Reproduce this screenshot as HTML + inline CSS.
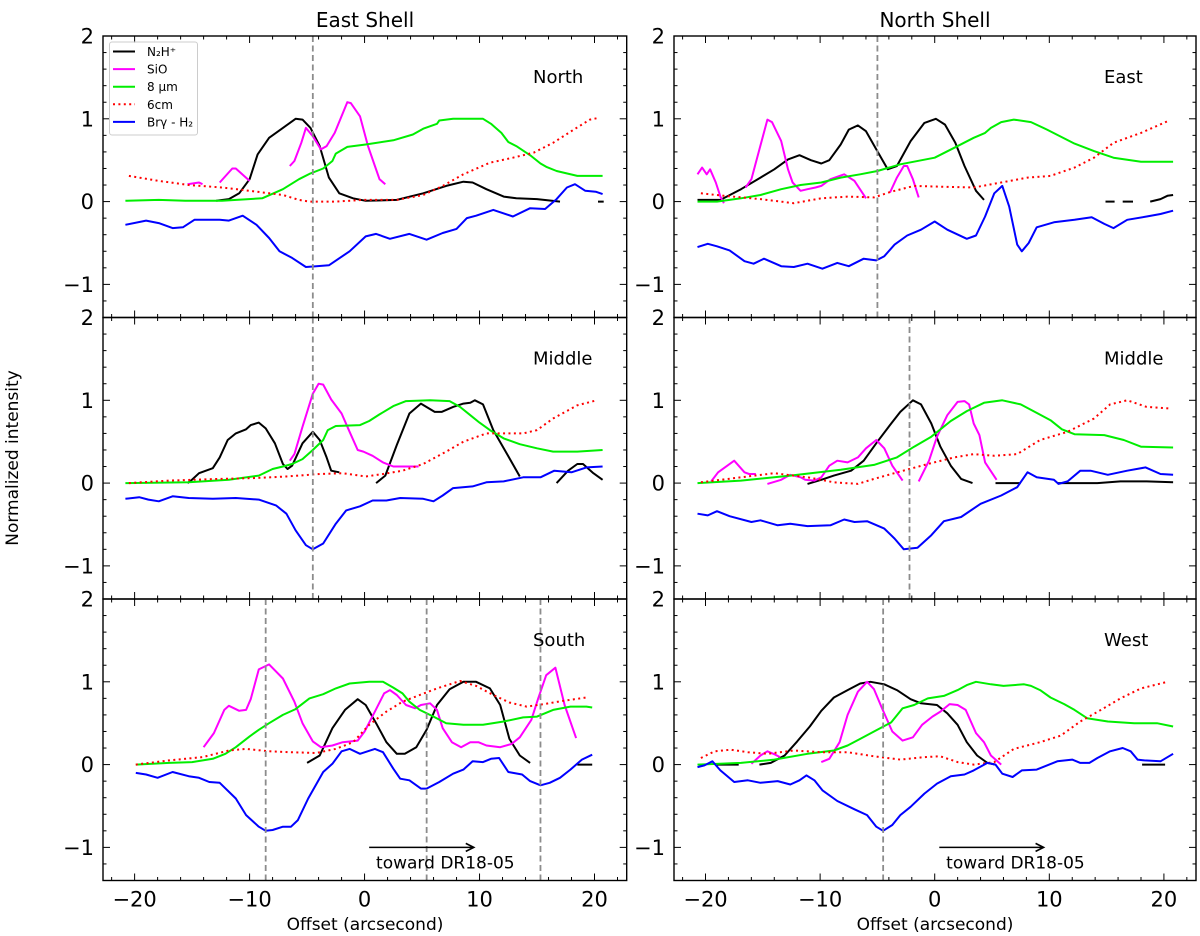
<!DOCTYPE html>
<html><head><meta charset="utf-8">
<style>
body{margin:0;background:#fff;}
svg{display:block;font-family:"DejaVu Sans","Liberation Sans",sans-serif;}
</style></head>
<body>
<svg id="fig" width="1200" height="936" viewBox="0 0 1200 936" xmlns="http://www.w3.org/2000/svg"></svg>
<script>
// ---------- data (offset arcsec, normalized intensity) ----------
const eastNorthN2H = [[[-12.9,0.01],[-11.8,0.03],[-10.9,0.1],[-10,0.27],[-9.3,0.57],[-8.3,0.77],[-7.1,0.89],[-6,1.0],[-5.4,0.99],[-4.7,0.89],[-3.9,0.67],[-3.1,0.29],[-2.2,0.1],[-1,0.04],[0.1,0.01],[2.8,0.02],[5.1,0.1],[7.1,0.19],[8.6,0.24],[9.4,0.23],[10.6,0.15],[12.1,0.06],[13.2,0.04],[15,0.03],[17,0]],[[20.3,0],[20.8,0]]];
const eastNorthSiO = [[[-15.4,0.21],[-14.4,0.23],[-14.1,0.21]],[[-12.6,0.23],[-11.5,0.4],[-11.2,0.4],[-10,0.25]],[[-6.5,0.43],[-6.1,0.49],[-5.5,0.71],[-5.1,0.89],[-4.5,0.79],[-3.8,0.63],[-3.3,0.67],[-2.6,0.83],[-1.5,1.2],[-1.2,1.19],[-0.4,1.03],[0.3,0.67],[0.9,0.43],[1.3,0.27],[1.8,0.21]]];
const eastNorth8um = [[[-20.8,0.01],[-17.9,0.02],[-15.6,0.01],[-12.4,0.01],[-8.9,0.04],[-7.1,0.15],[-5.7,0.27],[-4.7,0.34],[-3.6,0.4],[-2.8,0.49],[-2.5,0.58],[-1.5,0.66],[0.1,0.69],[2.5,0.74],[4.2,0.81],[5.1,0.88],[6.3,0.94],[6.5,0.98],[7.7,1.0],[10.3,1.0],[11,0.94],[11.9,0.83],[12.5,0.72],[13.2,0.67],[14.5,0.55],[15.3,0.46],[15.8,0.42],[16.7,0.37],[18.5,0.31],[20.7,0.31]]];
const eastNorth6cm = [[[-20.5,0.31],[-17.9,0.25],[-15.3,0.2],[-12.4,0.17],[-10,0.13],[-7.1,0.08],[-5.7,0.02],[-4.8,0],[-2.5,0],[-0.1,0.02],[2.8,0.02],[5.1,0.08],[6.8,0.19],[8.6,0.33],[10.9,0.47],[12.9,0.53],[14.7,0.59],[16.4,0.71],[18.2,0.87],[19.6,0.99],[20.3,1.01]]];
const eastNorthBrg = [[[-20.8,-0.28],[-19,-0.23],[-17.9,-0.26],[-16.7,-0.32],[-15.8,-0.31],[-14.8,-0.22],[-12.6,-0.22],[-11.8,-0.23],[-10.6,-0.17],[-9.4,-0.28],[-8.3,-0.44],[-7.4,-0.6],[-6.3,-0.68],[-5.1,-0.79],[-4.2,-0.78],[-3.1,-0.77],[-1.3,-0.6],[0.1,-0.42],[1,-0.39],[2.2,-0.45],[3.9,-0.39],[5.4,-0.46],[6.8,-0.38],[8,-0.33],[8.9,-0.2],[9.7,-0.17],[11.2,-0.1],[12.9,-0.18],[14.4,-0.08],[15.7,-0.09],[16.7,0.03],[17.6,0.17],[18.3,0.21],[19.2,0.13],[20.1,0.12],[20.7,0.09]]];

const eastMidN2H = [[[-15.4,0],[-15.1,0.03],[-14.4,0.12],[-13.2,0.18],[-12.6,0.31],[-11.9,0.52],[-11.2,0.6],[-10.3,0.65],[-9.9,0.7],[-9.2,0.73],[-8.6,0.66],[-7.8,0.48],[-7.1,0.23],[-6.7,0.17],[-6.3,0.21],[-5.4,0.48],[-4.5,0.62],[-3.9,0.52],[-3.3,0.31],[-2.9,0.15],[-2.2,0.13]],[[1,0],[1.8,0.09],[2.8,0.46],[3.9,0.84],[4.9,0.96],[6.1,0.86],[6.7,0.86],[7.7,0.92],[8.6,0.96],[9.2,0.97],[9.6,1.0],[10.3,0.95],[11.2,0.64],[12.4,0.35],[13.5,0.08]],[[16.7,0],[17.7,0.15],[18.5,0.23],[19,0.23],[19.9,0.12],[20.7,0.04]]];
const eastMidSiO = [[[-6.5,0.27],[-6.1,0.35],[-5.4,0.68],[-4.5,1.08],[-4,1.2],[-3.6,1.19],[-2.9,1.01],[-2,0.84],[-1.3,0.62],[-0.6,0.4],[-0.1,0.38],[0.7,0.33],[1.6,0.25],[2.5,0.2],[4.7,0.2]]];
const eastMid8um = [[[-20.8,0],[-15.3,0.01],[-11.8,0.04],[-9.2,0.09],[-8,0.17],[-7.1,0.2],[-6.3,0.23],[-5.4,0.29],[-4.5,0.4],[-3.6,0.52],[-3.2,0.64],[-2.5,0.69],[-0.4,0.7],[0.4,0.75],[1.3,0.83],[2.5,0.93],[3.6,0.99],[5.7,1.0],[7.4,0.99],[8.3,0.92],[9.2,0.82],[10,0.73],[10.9,0.64],[12.1,0.54],[13.5,0.47],[15,0.42],[16.4,0.38],[18.5,0.38],[20.7,0.4]]];
const eastMid6cm = [[[-20.5,0],[-17,0.03],[-12.6,0.05],[-9.7,0.06],[-6.8,0.08],[-3.9,0.11],[-1.9,0.12],[0.1,0.08],[1.6,0.11],[3.3,0.15],[5.1,0.23],[7.1,0.38],[8.6,0.5],[10.6,0.6],[12.1,0.6],[13.8,0.6],[15,0.64],[16.4,0.78],[18.5,0.94],[20.2,1.0]]];
const eastMidBrg = [[[-20.8,-0.19],[-19.6,-0.17],[-18.8,-0.2],[-17.9,-0.22],[-16.7,-0.16],[-15.3,-0.18],[-13.2,-0.19],[-11.2,-0.18],[-9.2,-0.2],[-7.7,-0.27],[-6.8,-0.37],[-6,-0.57],[-5.1,-0.75],[-4.5,-0.8],[-3.6,-0.73],[-2.5,-0.49],[-1.6,-0.33],[-0.4,-0.28],[0.7,-0.21],[1.9,-0.21],[3.1,-0.18],[5.1,-0.19],[6,-0.22],[6.8,-0.15],[7.7,-0.06],[9.4,-0.04],[10.6,0.01],[12.1,0.02],[13.8,0.07],[15.3,0.07],[16.5,0.15],[18,0.13],[19.3,0.19],[20.7,0.2]]];

const eastSouthN2H = [[[-5,0.02],[-3.9,0.11],[-2.8,0.44],[-1.7,0.66],[-0.6,0.79],[0.1,0.72],[1,0.5],[1.9,0.27],[2.8,0.13],[3.5,0.13],[4.5,0.21],[5.4,0.42],[6.3,0.72],[7.4,0.91],[8.6,1.0],[9.7,1.0],[10.9,0.92],[11.8,0.72],[12.6,0.31],[13.5,0.11],[14.4,0.02]],[[18.5,0],[19.8,0]]];
const eastSouthSiO = [[[-14,0.21],[-13.1,0.38],[-12.2,0.66],[-11.8,0.71],[-10.9,0.65],[-10.3,0.66],[-9.9,0.79],[-9.2,1.15],[-8.3,1.21],[-7.1,1.04],[-6.1,0.76],[-5.4,0.5],[-4.5,0.28],[-3.8,0.21],[-2.8,0.23],[-1.9,0.27],[-0.6,0.29],[0,0.4],[0.9,0.64],[1.7,0.86],[2.2,0.9],[2.8,0.84],[3.6,0.72],[4.4,0.68],[4.9,0.72],[5.7,0.74],[6.3,0.66],[6.8,0.44],[7.6,0.27],[8.4,0.21],[9.2,0.27],[9.9,0.27],[10.6,0.23],[11.8,0.21],[12.8,0.25],[13.5,0.33],[14.5,0.54],[15.1,0.8],[15.8,1.08],[16.6,1.17],[17.4,0.72],[18.4,0.32]]];
const eastSouth8um = [[[-19.9,0],[-17,0.02],[-15,0.03],[-13.2,0.07],[-12.1,0.13],[-11.2,0.21],[-10,0.34],[-9.2,0.42],[-8.3,0.5],[-7.1,0.6],[-6,0.67],[-4.8,0.8],[-3.6,0.85],[-2.5,0.92],[-1.3,0.98],[0.4,1.0],[1.6,1.0],[2.5,0.93],[3.3,0.86],[3.9,0.76],[4.8,0.66],[6,0.58],[7.1,0.5],[8.6,0.48],[10.3,0.48],[12.1,0.52],[13.8,0.57],[15,0.58],[16.4,0.66],[17.9,0.7],[19.3,0.7],[19.8,0.69]]];
const eastSouth6cm = [[[-19.9,0],[-17,0.05],[-14.1,0.09],[-11.8,0.17],[-10.3,0.19],[-8.3,0.16],[-6.5,0.15],[-4.2,0.14],[-2.5,0.19],[-1,0.27],[0.4,0.48],[1.9,0.64],[3.3,0.76],[4.8,0.84],[6.3,0.92],[8.3,1.01],[9.7,0.95],[11.2,0.84],[12.6,0.75],[14.1,0.7],[15.6,0.73],[17.3,0.77],[19.3,0.81]]];
const eastSouthBrg = [[[-19.9,-0.1],[-19,-0.12],[-18,-0.16],[-16.7,-0.09],[-15.3,-0.14],[-14.4,-0.16],[-13.5,-0.21],[-12.6,-0.22],[-11.2,-0.41],[-10.3,-0.61],[-9.2,-0.75],[-8.6,-0.8],[-8,-0.79],[-7.1,-0.75],[-6.4,-0.75],[-5.8,-0.67],[-4.9,-0.41],[-3.6,-0.09],[-2.8,0.01],[-2,0.16],[-1.3,0.19],[-0.4,0.13],[0.9,0.19],[1.6,0.15],[2.5,-0.05],[3.1,-0.17],[3.9,-0.19],[4.9,-0.29],[5.4,-0.29],[6.5,-0.21],[7.7,-0.11],[8.6,-0.06],[9.4,0.04],[10.3,0.03],[11,0.07],[11.7,0.08],[12.5,-0.09],[13.7,-0.12],[14.4,-0.2],[15.3,-0.25],[16.1,-0.22],[17,-0.16],[17.9,-0.06],[18.9,0.06],[19.8,0.12]]];

const northEastN2H = [[[-20.7,0.02],[-18.7,0.02],[-16.9,0.15],[-15.2,0.29],[-14,0.39],[-12.8,0.51],[-11.8,0.56],[-10.8,0.5],[-9.9,0.46],[-9.2,0.5],[-8.2,0.69],[-7.5,0.87],[-6.7,0.92],[-6,0.85],[-5.1,0.63],[-4.1,0.39],[-3.3,0.43],[-2.1,0.73],[-0.9,0.95],[0.1,1.0],[0.9,0.93],[1.8,0.71],[2.6,0.43],[3.6,0.13],[4.3,0.02]],[[14.9,0],[15.7,0]],[[16.4,0],[17.3,0]],[[18.8,0],[19.7,0.03],[20.3,0.07],[20.8,0.08]]];
const northEastSiO = [[[-20.7,0.33],[-20.3,0.41],[-19.9,0.33],[-19.6,0.39],[-19.1,0.23],[-18.7,0.06],[-18.4,-0.02]],[[-16.5,0.17],[-16,0.27],[-15.3,0.63],[-14.6,0.99],[-14.2,0.96],[-13.4,0.73],[-12.8,0.39],[-12.4,0.23],[-11.7,0.13],[-11.1,0.15],[-10.4,0.17],[-9.9,0.19],[-9.1,0.27],[-7.9,0.33],[-7,0.25],[-6,0.04]],[[-3.9,0.11],[-3.3,0.29],[-2.7,0.43],[-2.4,0.43],[-1.9,0.27],[-1.4,0.05]]];
const northEast8um = [[[-20.7,0],[-19,0],[-16.9,0.04],[-15.2,0.08],[-13.4,0.15],[-11.7,0.2],[-9.9,0.23],[-8.2,0.29],[-6.5,0.33],[-5,0.37],[-3,0.45],[0,0.53],[1.7,0.65],[3.4,0.77],[4.4,0.83],[4.9,0.89],[5.8,0.96],[6.9,0.99],[8.4,0.96],[9.8,0.87],[12.2,0.7],[13.9,0.61],[15.6,0.53],[18,0.48],[20.8,0.48]]];
const northEast6cm = [[[-20.4,0.1],[-18.4,0.07],[-15.2,0.03],[-12.3,-0.02],[-9.9,0.04],[-7.6,0.06],[-5.3,0.05],[-3.8,0.12],[-1.8,0.19],[0.5,0.18],[3.4,0.17],[5.8,0.23],[8.1,0.29],[10.1,0.31],[12.2,0.41],[13.9,0.53],[15.6,0.71],[18,0.83],[20.3,0.97]]];
const northEastBrg = [[[-20.7,-0.55],[-19.8,-0.51],[-19,-0.54],[-17.9,-0.59],[-16.6,-0.72],[-15.8,-0.75],[-14.9,-0.69],[-13.4,-0.78],[-12.3,-0.79],[-11.1,-0.75],[-9.8,-0.81],[-8.5,-0.74],[-7.5,-0.78],[-6.2,-0.69],[-5.1,-0.71],[-4.4,-0.66],[-3.5,-0.52],[-2.4,-0.41],[-1.2,-0.34],[0,-0.24],[1.1,-0.34],[2.8,-0.45],[3.6,-0.41],[4.4,-0.18],[5.2,0.1],[5.9,0.19],[6.5,-0.06],[7.2,-0.52],[7.6,-0.6],[8.2,-0.5],[8.9,-0.31],[10.4,-0.25],[12.2,-0.22],[13.7,-0.19],[14.8,-0.27],[15.6,-0.32],[16.8,-0.22],[18.5,-0.18],[19.7,-0.15],[20.8,-0.11]]];

const northMidN2H = [[[-11.1,-0.01],[-9.9,0.04],[-8.8,0.09],[-7.3,0.15],[-6.2,0.27],[-5,0.5],[-3.8,0.72],[-3,0.86],[-1.9,1.0],[-1.2,0.95],[-0.3,0.72],[0.5,0.44],[1.4,0.21],[2.3,0.05],[3.3,0]],[[5.3,0],[7.5,0]],[[10.7,0],[12.2,0],[14.2,0],[16.2,0.02],[18.5,0.02],[20.8,0.01]]];
const northMidSiO = [[[-19.5,0.02],[-18.9,0.13],[-18.1,0.21],[-17.5,0.27],[-16.6,0.13],[-16.2,0.11],[-15.6,0.11]],[[-14.6,-0.01],[-13.4,0.04],[-12.6,0.1],[-11.7,0.07],[-11.3,0.04],[-10.5,0.03],[-9.9,0.07],[-9.2,0.21],[-8.5,0.27],[-7.6,0.25],[-6.7,0.31],[-6,0.42],[-5.1,0.52],[-4.4,0.42],[-3.7,0.21],[-2.8,0.03]],[[-1.4,0.02],[-0.5,0.27],[0.2,0.56],[1.1,0.82],[2,0.98],[2.6,0.99],[3,0.95],[3.4,0.72],[3.9,0.58],[4.4,0.25],[5.4,0.04]]];
const northMid8um = [[[-20.7,0],[-16.9,0.03],[-12.6,0.09],[-8.2,0.16],[-5.3,0.22],[-3.3,0.31],[-1.8,0.44],[-0.3,0.56],[1.4,0.75],[2.8,0.87],[4.3,0.97],[5.9,1.0],[7.5,0.95],[9,0.84],[10.1,0.76],[11.1,0.65],[12.2,0.59],[14.8,0.58],[16.5,0.52],[18,0.44],[20.8,0.43]]];
const northMid6cm = [[[-20.4,0.01],[-16.9,0.07],[-14,0.12],[-11.1,0.07],[-8.8,0.01],[-6.7,-0.01],[-5.3,0.05],[-3,0.14],[-0.6,0.23],[1.7,0.31],[3.4,0.35],[5.2,0.33],[7.2,0.35],[9.2,0.52],[11.6,0.62],[13.9,0.78],[15.3,0.95],[16.8,1.0],[18.5,0.92],[20.6,0.9]]];
const northMidBrg = [[[-20.7,-0.37],[-19.8,-0.39],[-19,-0.34],[-17.9,-0.4],[-16,-0.47],[-15.2,-0.45],[-13.7,-0.51],[-12.6,-0.49],[-11.1,-0.52],[-9.1,-0.51],[-7.9,-0.44],[-7,-0.47],[-5.9,-0.46],[-4.4,-0.55],[-3.5,-0.67],[-2.7,-0.8],[-1.5,-0.78],[-0.3,-0.63],[0.8,-0.46],[2.3,-0.41],[4,-0.25],[5.8,-0.15],[7.2,-0.05],[8.1,0.13],[8.9,0.07],[10.4,0.04],[10.8,-0.01],[11.6,0.02],[12.7,0.15],[13.6,0.15],[15.1,0.1],[16.8,0.15],[18.4,0.19],[19.7,0.11],[20.8,0.1]]];

const northWestN2H = [[[-19,0],[-17.1,0]],[[-15.3,0],[-14.3,0.02],[-13.1,0.11],[-12,0.28],[-10.9,0.46],[-9.9,0.65],[-8.8,0.81],[-7.6,0.9],[-6.5,0.98],[-5.6,1.0],[-4.4,0.97],[-3.3,0.9],[-2.1,0.79],[-1.2,0.74],[0.2,0.72],[1.1,0.62],[2,0.48],[2.8,0.27],[3.7,0.11],[4.6,0.02],[5.3,0]],[[18.1,0],[20.1,0]]];
const northWestSiO = [[[-16,0.01],[-15.2,0.11],[-14.6,0.16],[-13.9,0.12],[-13.5,0.09]],[[-9.9,0.03],[-9.2,0.07],[-8.3,0.27],[-7.6,0.6],[-6.7,0.88],[-5.9,1.0],[-5.3,0.91],[-4.6,0.68],[-3.7,0.4],[-2.8,0.29],[-1.9,0.33],[-1.1,0.48],[-0.2,0.58],[0.5,0.64],[1.3,0.73],[2,0.72],[2.7,0.66],[3.6,0.38],[4.3,0.27],[4.9,0.11],[5.8,0]]];
const northWest8um = [[[-20.7,0],[-16.9,0.02],[-14,0.06],[-11.1,0.13],[-8.8,0.17],[-7.6,0.23],[-6.5,0.31],[-5.3,0.4],[-3.8,0.51],[-2.8,0.68],[-1.8,0.72],[-0.6,0.8],[0.8,0.83],[2,0.9],[2.8,0.96],[3.6,1.0],[4.9,0.97],[6,0.95],[7.8,0.97],[8.4,0.95],[9.2,0.9],[10.1,0.81],[11.3,0.73],[12.2,0.66],[13.3,0.56],[15.1,0.52],[17.4,0.5],[19.4,0.5],[20.8,0.46]]];
const northWest6cm = [[[-20.4,0.08],[-19.2,0.16],[-17.8,0.18],[-16.3,0.15],[-14.6,0.13],[-12.3,0.17],[-9.9,0.15],[-7.6,0.15],[-5.3,0.1],[-3,0.06],[-0.9,0.09],[0.5,0.1],[2,0.03],[3.4,0],[5.2,0.03],[6.9,0.19],[9.2,0.27],[11,0.35],[12.7,0.52],[14.5,0.66],[16.2,0.8],[18,0.92],[20.3,1.0]]];
const northWestBrg = [[[-20.7,-0.03],[-20.1,-0.01],[-19.4,0.04],[-18.7,-0.07],[-17.5,-0.21],[-16.3,-0.19],[-15.2,-0.22],[-13.7,-0.2],[-12.6,-0.24],[-11.8,-0.19],[-11.2,-0.13],[-10.5,-0.19],[-9.8,-0.31],[-8.5,-0.44],[-7,-0.54],[-5.9,-0.61],[-5.1,-0.75],[-4.5,-0.8],[-3.7,-0.73],[-3,-0.61],[-2.1,-0.51],[-0.9,-0.35],[0.2,-0.23],[1.4,-0.14],[2.6,-0.12],[3.4,-0.07],[4.6,0.02],[5.3,0],[5.9,-0.11],[6.8,-0.15],[7.6,-0.07],[8.9,-0.06],[10.7,0.04],[12,0.06],[12.7,0.02],[13.5,0.02],[14.2,0.08],[15.3,0.16],[16.4,0.2],[17.1,0.16],[17.7,0.06],[18.3,0.05],[19.7,0.04],[20.8,0.13]]];

const vlinesEastNorth = [-4.5];
const vlinesEastMid = [-4.5];
const vlinesEastSouth = [-8.6, 5.4, 15.3];
const vlinesNorthEast = [-5.0];
const vlinesNorthMid = [-2.2];
const vlinesNorthWest = [-4.5];
const xTicksMajor = [-20, -10, 0, 10, 20];
const yTicksMajor = [-1, 0, 1, 2];
const seriesNames = ["N\u2082H\u207A", "SiO", "8 \u03BCm", "6cm", "Br\u03B3 - H\u2082"];

// ---------- drawing ----------
const NS = "http://www.w3.org/2000/svg";
const svg = document.getElementById('fig');
const XMIN = -22.75, XMAX = 22.8, YMIN = -1.4, YMAX = 2;
const COLORS = ['#000000', '#ff00ff', '#00ee00', '#ff0000', '#0000ff'];
function mk(tag, attrs, parent) {
  const e = document.createElementNS(NS, tag);
  for (const k in attrs) e.setAttribute(k, attrs[k]);
  (parent || svg).appendChild(e);
  return e;
}
const panels = [
  {key:'east-north', x0:103, x1:626.7, y0:36, label:'North', series:[eastNorthN2H,eastNorthSiO,eastNorth8um,eastNorth6cm,eastNorthBrg], vl:vlinesEastNorth, legend:true},
  {key:'east-middle', x0:103, x1:626.7, y0:317.5, label:'Middle', series:[eastMidN2H,eastMidSiO,eastMid8um,eastMid6cm,eastMidBrg], vl:vlinesEastMid},
  {key:'east-south', x0:103, x1:626.7, y0:599, label:'South', series:[eastSouthN2H,eastSouthSiO,eastSouth8um,eastSouth6cm,eastSouthBrg], vl:vlinesEastSouth, bottom:true},
  {key:'north-east', x0:674, x1:1196, y0:36, label:'East', series:[northEastN2H,northEastSiO,northEast8um,northEast6cm,northEastBrg], vl:vlinesNorthEast},
  {key:'north-middle', x0:674, x1:1196, y0:317.5, label:'Middle', series:[northMidN2H,northMidSiO,northMid8um,northMid6cm,northMidBrg], vl:vlinesNorthMid},
  {key:'north-west', x0:674, x1:1196, y0:599, label:'West', series:[northWestN2H,northWestSiO,northWest8um,northWest6cm,northWestBrg], vl:vlinesNorthWest, bottom:true}
];
const PH = 281.5;
const serKeys = ['n2h', 'sio', '8um', '6cm', 'brg'];

panels.forEach(p => {
  const sx = v => p.x0 + (v - XMIN) / (XMAX - XMIN) * (p.x1 - p.x0);
  const sy = v => p.y0 + (YMAX - v) / (YMAX - YMIN) * PH;
  const y1 = p.y0 + PH;
  const g = mk('g', {});
  
  
  const clipId = 'clip-' + p.key;
  const cp = mk('clipPath', {id: clipId}, g);
  mk('rect', {x:p.x0, y:p.y0, width:p.x1-p.x0, height:PH}, cp);
  const sg = mk('g', {'clip-path':'url(#'+clipId+')'}, g);
  p.series.forEach((segs, si) => {
    segs.forEach(seg => {
      const d = seg.map((pt, i) => (i ? 'L' : 'M') + sx(pt[0]).toFixed(1) + ',' + sy(pt[1]).toFixed(1)).join('');
      const path = mk('path', {d:d, fill:'none', stroke:COLORS[si], 'stroke-width':2, 'stroke-linejoin':'round'}, sg);
      if (si === 3) { path.setAttribute('stroke-dasharray', '2 3.4'); }
      
      
    });
  });
  p.vl.forEach(v => {
    const l = mk('line', {x1:sx(v), x2:sx(v), y1:p.y0, y2:y1, stroke:'#8c8c8c', 'stroke-width':1.8, 'stroke-dasharray':'6 3.5'}, g);
    
    
  });
  const fr = mk('rect', {x:p.x0, y:p.y0, width:p.x1-p.x0, height:PH, fill:'none', stroke:'#000', 'stroke-width':1.4}, g);
  
  
  for (let v = -22; v <= 22; v += 2) {
    const maj = xTicksMajor.includes(v);
    const L = maj ? 7 : 3.5, X = sx(v);
    mk('line', {x1:X, x2:X, y1:y1, y2:y1-L, stroke:'#000', 'stroke-width':1}, g);
    mk('line', {x1:X, x2:X, y1:p.y0, y2:p.y0+L, stroke:'#000', 'stroke-width':1}, g);
    if (maj && p.bottom) {
      const t = mk('text', {x:X, y:y1+26, 'text-anchor':'middle', 'font-size':21}, g);
      t.textContent = (v < 0 ? '\u2212' + (-v) : '' + v);
      
      
    }
  }
  for (let k = -7; k <= 10; k++) {
    const v = k / 5;
    const maj = k % 5 === 0;
    const L = maj ? 7 : 3.5, Y = sy(v);
    mk('line', {x1:p.x0, x2:p.x0+L, y1:Y, y2:Y, stroke:'#000', 'stroke-width':1}, g);
    mk('line', {x1:p.x1, x2:p.x1-L, y1:Y, y2:Y, stroke:'#000', 'stroke-width':1}, g);
    if (maj && yTicksMajor.includes(Math.round(v))) {
      const t = mk('text', {x:p.x0-9, y:Y+7.5, 'text-anchor':'end', 'font-size':21}, g);
      t.textContent = (v < 0 ? '\u2212' + (-v) : '' + v);
      
      
    }
  }
  const pl = mk('text', {x:p.x0 + 430, y:p.y0 + 47, 'font-size':18}, g);
  pl.textContent = p.label;
  
  
  if (p.bottom) {
    const ag = mk('g', {}, g);
    
    
    mk('line', {x1:sx(0.4), x2:sx(9.5), y1:sy(-1), y2:sy(-1), stroke:'#000', 'stroke-width':1.6}, ag);
    const ax = sx(9.5), ay = sy(-1);
    mk('path', {d:'M'+(ax-8)+','+(ay-4)+' L'+ax+','+ay+' L'+(ax-8)+','+(ay+4), fill:'none', stroke:'#000', 'stroke-width':1.6}, ag);
    const at = mk('text', {x:sx(1.0), y:sy(-1)+21, 'font-size':17}, ag);
    at.textContent = 'toward DR18-05';
    
    
  }
  if (p.legend) {
    const lg = mk('g', {}, g);
    
    
    mk('rect', {x:109.5, y:42, width:88, height:93, rx:2.5, fill:'#fff', 'fill-opacity':0.8, stroke:'#cccccc', 'stroke-width':1}, lg);
    seriesNames.forEach((nm, i) => {
      const y = 51.5 + i * 17.6;
      const eg = mk('g', {}, lg);
      
      
      const ln = mk('line', {x1:113, x2:135, y1:y, y2:y, stroke:COLORS[i], 'stroke-width':2}, eg);
      if (i === 3) ln.setAttribute('stroke-dasharray', '2 3.4');
      const t = mk('text', {x:147, y:y+4.5, 'font-size':12}, eg);
      t.textContent = nm;
    });
  }
});

function label(txt, x, y, size, name, rot) {
  const t = mk('text', {x:x, y:y, 'text-anchor':'middle', 'font-size':size});
  if (rot) t.setAttribute('transform', 'rotate(-90 ' + x + ' ' + y + ')');
  t.textContent = txt;
  
  
}
label('East Shell', 365, 27, 20, 'title-east-shell');
label('North Shell', 935, 27, 20, 'title-north-shell');
label('Offset (arcsecond)', 365, 930, 17, 'x-axis-title-left');
label('Offset (arcsecond)', 935, 930, 17, 'x-axis-title-right');
label('Normalized intensity', 18, 458, 17, 'y-axis-title', true);
</script>
</body></html>
